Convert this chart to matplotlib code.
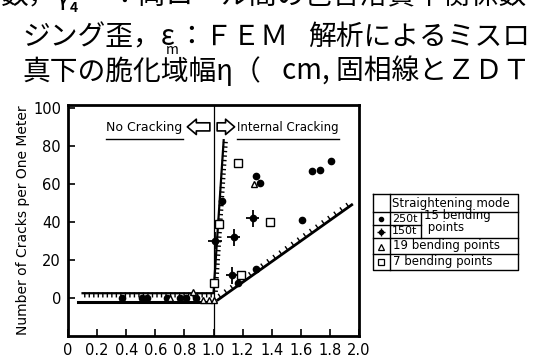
import matplotlib
matplotlib.use("Agg")
import matplotlib.pyplot as plt
from matplotlib import patheffects

# data
x_250t = [0.37, 0.51, 0.54, 0.68, 0.77, 0.81, 0.88, 1.055, 1.17, 1.29, 1.29, 1.32, 1.61, 1.68, 1.73, 1.81]
y_250t = [0, 0, 0, 0, 0, 0, 0, 51, 8, 15, 64, 60.5, 41, 67, 67.5, 72]
x_150t = [1.01, 1.13, 1.14, 1.27]
y_150t = [30, 12, 32, 42]
x_19bp = [0.70, 0.86, 0.93, 0.97, 1.00, 1.28]
y_19bp = [0, 3, -1, -1, -1, 60]
x_7bp = [1.00, 1.04, 1.17, 1.19, 1.39]
y_7bp = [8, 39, 71, 12, 40]

# boundary lines
upper_x = [0.10, 1.00, 1.07]
upper_y = [2.5, 2.5, 83]
lower_x = [0.07, 0.97]
lower_y = [-2, -2]
slant_x = [1.03, 1.95]
slant_y = [-1, 49]

xticks = [0, 0.2, 0.4, 0.6, 0.8, 1.0, 1.2, 1.4, 1.6, 1.8, 2.0]
xticklabels = ["0", "0.2", "0.4", "0.6", "0.8", "1.0", "1.2", "1.4", "1.6", "1.8", "2.0"]
yticks = [0, 20, 40, 60, 80, 100]

jp = ["Noto Sans CJK JP", "DejaVu Sans"]

fig = plt.figure(figsize=(5.44, 3.62), dpi=100)
W, H = 544, 362
ax = fig.add_axes([68 / W, 1 - 336 / H, (359 - 68) / W, (336 - 105) / H])

ax.plot(upper_x, upper_y, color="k", lw=1.6,
        path_effects=[patheffects.withTickedStroke(angle=-90, spacing=3.2, length=0.8, linewidth=1.0)])
ax.plot(lower_x, lower_y, color="k", lw=2.2)
ax.plot(slant_x, slant_y, color="k", lw=2.0,
        path_effects=[patheffects.withTickedStroke(angle=90, spacing=5.3, length=0.55, linewidth=1.0)])
ax.axvline(1.0, color="k", lw=0.9)

ax.plot(x_250t, y_250t, "o", color="k", ms=4.5)
ax.errorbar(x_150t, y_150t, xerr=0.045, yerr=4.5, fmt="o", color="k", ms=4.5,
            elinewidth=1.3, capsize=0)
ax.plot(x_19bp, y_19bp, "^", mfc="white", mec="k", ms=5, mew=1)
ax.plot(x_7bp, y_7bp, "s", mfc="white", mec="k", ms=5.5, mew=1)

ax.set_xlim(0, 2.0)
ax.set_ylim(-20, 101.5)
ax.set_xticks(xticks)
ax.set_xticklabels(xticklabels)
ax.set_yticks(yticks)
ax.tick_params(direction="in", length=5, width=1.2, labelsize=10.5, pad=5)
for s in ax.spines.values():
    s.set_linewidth(2)
ax.set_ylabel("Number of Cracks per One Meter", fontsize=10)
ax.yaxis.set_label_coords(-38 / 291, 0.5)

# region labels
ax.text(0.52, 89.5, "No Cracking", fontsize=9, ha="center", va="center")
ax.plot([0.26, 0.79], [83.5, 83.5], color="k", lw=1.0)
ax.text(1.51, 89.5, "Internal Cracking", fontsize=8.5, ha="center", va="center")
ax.plot([1.16, 1.86], [83.5, 83.5], color="k", lw=1.0)
arrow = dict(arrowstyle="simple,head_length=0.5,head_width=0.85,tail_width=0.45",
             fc="white", ec="black", lw=1.2, mutation_scale=13, shrinkA=0, shrinkB=0)
ax.annotate("", xy=(0.82, 90), xytext=(0.975, 90), arrowprops=arrow)
ax.annotate("", xy=(1.145, 90), xytext=(1.025, 90), arrowprops=arrow)

# overlay in pixel coordinates for the page text and legend table
ov = fig.add_axes([0, 0, 1, 1])
ov.set_xlim(0, W)
ov.set_ylim(H, 0)
ov.axis("off")

jfs = 20
ov.text(0, -4, "数，γ", fontsize=jfs, family=jp, va="center", ha="left")
ov.text(70, 8, "4", fontsize=10, family=jp, va="center", ha="left", fontweight="bold")
ov.text(526, -4, "：両ロール間の包含溶質平衡係数", fontsize=jfs, family=jp, va="center", ha="right")
ov.text(22, 37, "ジング歪，ε", fontsize=jfs, family=jp, va="center", ha="left")
ov.text(166, 50, "m", fontsize=10, family=jp, va="center", ha="left")
ov.text(177, 37, "：ＦＥＭ", fontsize=jfs, family=jp, va="center", ha="left")
ov.text(530, 37, "解析によるミスロ", fontsize=jfs, family=jp, va="center", ha="right")
ov.text(22, 72, "真下の脆化域幅η（", fontsize=jfs, family=jp, va="center", ha="left")
ov.text(530, 72, "cm, 固相線とＺＤＴ", fontsize=jfs, family=jp, va="center", ha="right")

# legend table
L, R, T, B = 373, 518, 194, 270
c1, c2 = 390, 421
lw = 1.0
ov.plot([L, R, R, L, L], [T, T, B, B, T], color="k", lw=lw)
ov.plot([L, R], [212, 212], color="k", lw=lw)
ov.plot([L, c2], [225, 225], color="k", lw=lw)
ov.plot([L, R], [238, 238], color="k", lw=lw)
ov.plot([L, R], [254, 254], color="k", lw=lw)
ov.plot([c1, c1], [T, B], color="k", lw=lw)
ov.plot([c2, c2], [212, 238], color="k", lw=lw)
fs = 8.5
ov.text(392, 203, "Straightening mode", fontsize=fs, va="center")
ov.text(392, 218.5, "250t", fontsize=8, va="center")
ov.text(392, 231.5, "150t", fontsize=8, va="center")
ov.text(424, 221, "15 bending\n points", fontsize=fs, va="center", linespacing=0.9)
ov.text(393, 246, "19 bending points", fontsize=fs, va="center")
ov.text(393, 262, "7 bending points", fontsize=fs, va="center")
ov.plot([381], [218.5], "o", color="k", ms=3)
ov.errorbar([381], [231.5], xerr=4, yerr=4, fmt="o", color="k", ms=3, elinewidth=1, capsize=0)
ov.plot([381], [246.5], "^", mfc="white", mec="k", ms=4, mew=0.9)
ov.plot([381], [262], "s", mfc="white", mec="k", ms=4.5, mew=0.9)

fig.savefig("out.png", dpi=100)
